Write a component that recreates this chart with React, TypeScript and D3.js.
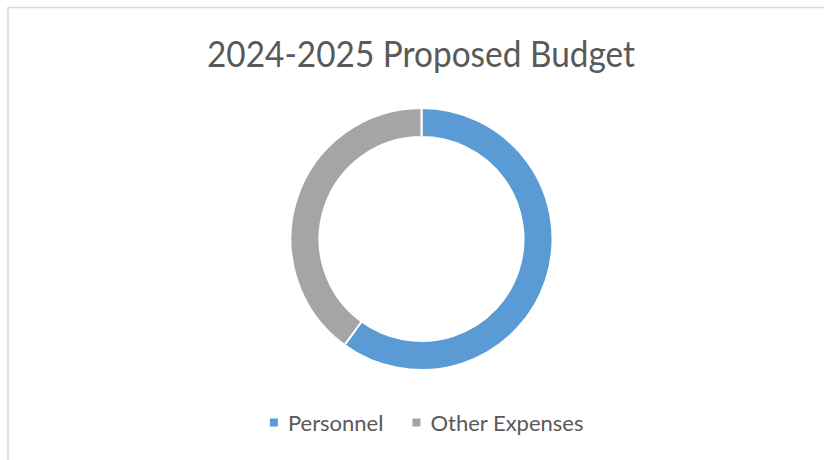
import React, { useEffect, useRef } from "react";
import * as d3 from "d3";

// budget split
const categories = ["Personnel", "Other Expenses"];
const shares = [60, 40];
const sliceColors = ["#5B9BD5", "#A5A5A5"];
const chartTitle = "2024-2025 Proposed Budget";

const WIDTH = 824;
const HEIGHT = 460;
const FONT = "Lato, 'Open Sans', sans-serif";

type Slice = { label: string; value: number; color: string };

const App: React.FC = () => {
	const svgRef = useRef<SVGSVGElement | null>(null);

	useEffect(() => {
		document.body.style.margin = "0";
		const svg = d3.select(svgRef.current);
		svg.selectAll("*").remove();

		const data: Slice[] = categories.map((label, i) => ({
			label,
			value: shares[i],
			color: sliceColors[i]
		}));

		// chart frame, cropped on the right and bottom
		svg.append("rect")
			.attr("x", 8)
			.attr("y", 7.5)
			.attr("width", WIDTH + 20)
			.attr("height", HEIGHT + 20)
			.attr("fill", "#ffffff")
			.attr("stroke", "#d9d9d9")
			.attr("stroke-width", 1.5);

		svg.append("text")
			.attr("x", 421)
			.attr("y", 66.5)
			.attr("text-anchor", "middle")
			.attr("font-family", FONT)
			.attr("font-size", 36)
			.attr("textLength", 428)
			.attr("lengthAdjust", "spacingAndGlyphs")
			.attr("fill", "#595959")
			.text(chartTitle);

		const pieGen = d3.pie<Slice>().sort(null).value((d) => d.value);
		const arcGen = d3.arc<d3.PieArcDatum<Slice>>()
			.innerRadius(102)
			.outerRadius(131);

		const g = svg.append("g").attr("transform", "translate(421.5,239)");
		g.selectAll("path")
			.data(pieGen(data))
			.join("path")
			.attr("d", arcGen)
			.attr("fill", (d) => d.data.color)
			.attr("stroke", "#ffffff")
			.attr("stroke-width", 2);

		// legend, measured then centred
		const legend = svg.append("g");
		let x = 0;
		data.forEach((d) => {
			const item = legend.append("g").attr("transform", `translate(${x},0)`);
			item.append("rect")
				.attr("x", 0)
				.attr("y", -12.5)
				.attr("width", 8)
				.attr("height", 8)
				.attr("fill", d.color);
			const t = item.append("text")
				.attr("x", 18)
				.attr("y", 0)
				.attr("font-family", FONT)
				.attr("font-size", 22)
				.attr("fill", "#595959")
				.text(d.label);
			const w = (t.node() as SVGTextElement).getComputedTextLength();
			x += 18 + w + 29;
		});
		const total = x - 29;
		legend.attr("transform", `translate(${426.7 - total / 2},431)`);
	}, []);

	return <svg ref={svgRef} width={WIDTH} height={HEIGHT} style={{ display: "block" }} />;
};

export default App;
